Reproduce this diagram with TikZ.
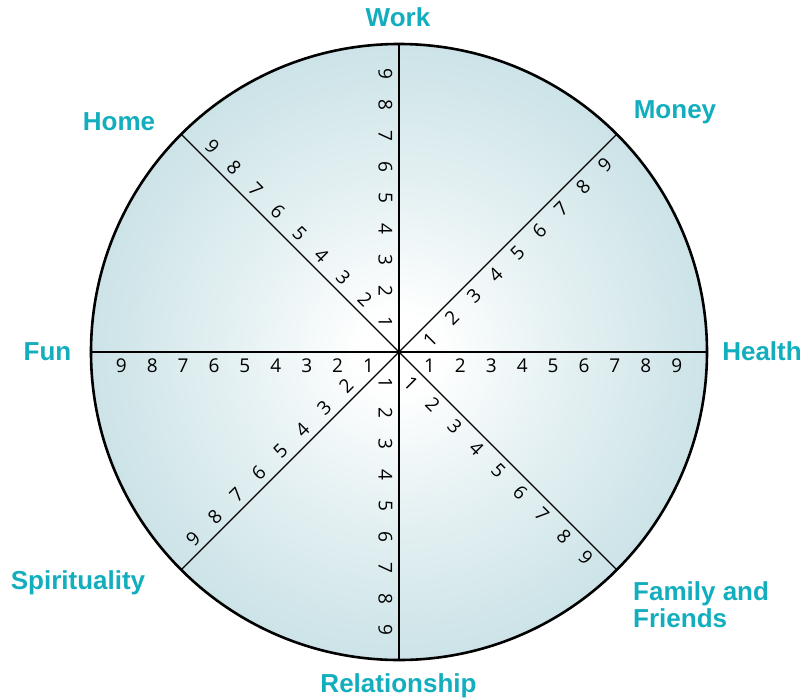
\documentclass[tikz,border=0pt]{standalone}
\usepackage{fontspec}
\setmainfont{Liberation Sans}
\newfontfamily\digitfont{Open Sans}
\usetikzlibrary{calc}
\definecolor{labelteal}{RGB}{18,174,190}
\definecolor{wheeledge}{RGB}{204,227,231}
\pgfdeclareradialshading{wheelshade}{\pgfpointorigin}{color(0bp)=(white); color(3bp)=(white); color(13bp)=(wheeledge!50!white); color(25bp)=(wheeledge); color(50bp)=(wheeledge)}
\begin{document}
\begin{tikzpicture}[x=1pt,y=1pt,
  digit/.style={font=\digitfont\fontsize{19}{19}\selectfont, inner sep=0pt},
  cat/.style={font=\bfseries\fontsize{26}{26}\selectfont, text=labelteal, inner sep=0pt},
  spoke/.style={line width=1.2pt, black},
  rim/.style={line width=2.6pt, black}]
\useasboundingbox (-399,-345) rectangle (406,352);
\coordinate (c) at (0,0);
\shade[shading=wheelshade] (c) circle[radius=308];
\foreach \n/\a in {E/0,NE/45,N/90,NW/135,W/180,SW/225,S/270,SE/315}
  \coordinate (e\n) at (\a:308);
\draw[spoke] (eE) -- (eW);
\draw[spoke] (eN) -- (eS);
\draw[spoke] (eNE) -- (eSW);
\draw[spoke] (eNW) -- (eSE);
\draw[rim] (c) circle[radius=308];
\foreach \n/\a/\r/\s/\first in {E/0/0/-90/1, NE/45/45/-90/1, N/90/-90/90/1, NW/135/-45/-90/2, W/180/0/90/1, SW/225/45/-90/2, S/270/-90/-90/1, SE/315/-45/-90/1}{
  \foreach \k in {\first,...,9}{
    \node[digit, rotate=\r] (d\n\k) at ($(c)+({\a}:{30.5+30.9*(\k-1)})+({\a+\s}:13.5)$) {\k};
  }
}
\node[cat, anchor=base] (work) at (-1,326) {Work};
\node[cat, anchor=base] (money) at (276,234) {Money};
\node[cat, anchor=base] (home) at (-280,222) {Home};
\node[cat, anchor=base] (fun) at (-351.5,-8) {Fun};
\node[cat, anchor=base] (health) at (363,-8) {Health};
\node[cat, anchor=base] (spirit) at (-321,-237) {Spirituality};
\node[cat, anchor=base] (rel) at (-0.5,-340) {Relationship};
\node[cat, anchor=base west] (fam1) at (234,-248) {Family and};
\node[cat, anchor=base west] (fam2) at (234,-275) {Friends};
\end{tikzpicture}
\end{document}
